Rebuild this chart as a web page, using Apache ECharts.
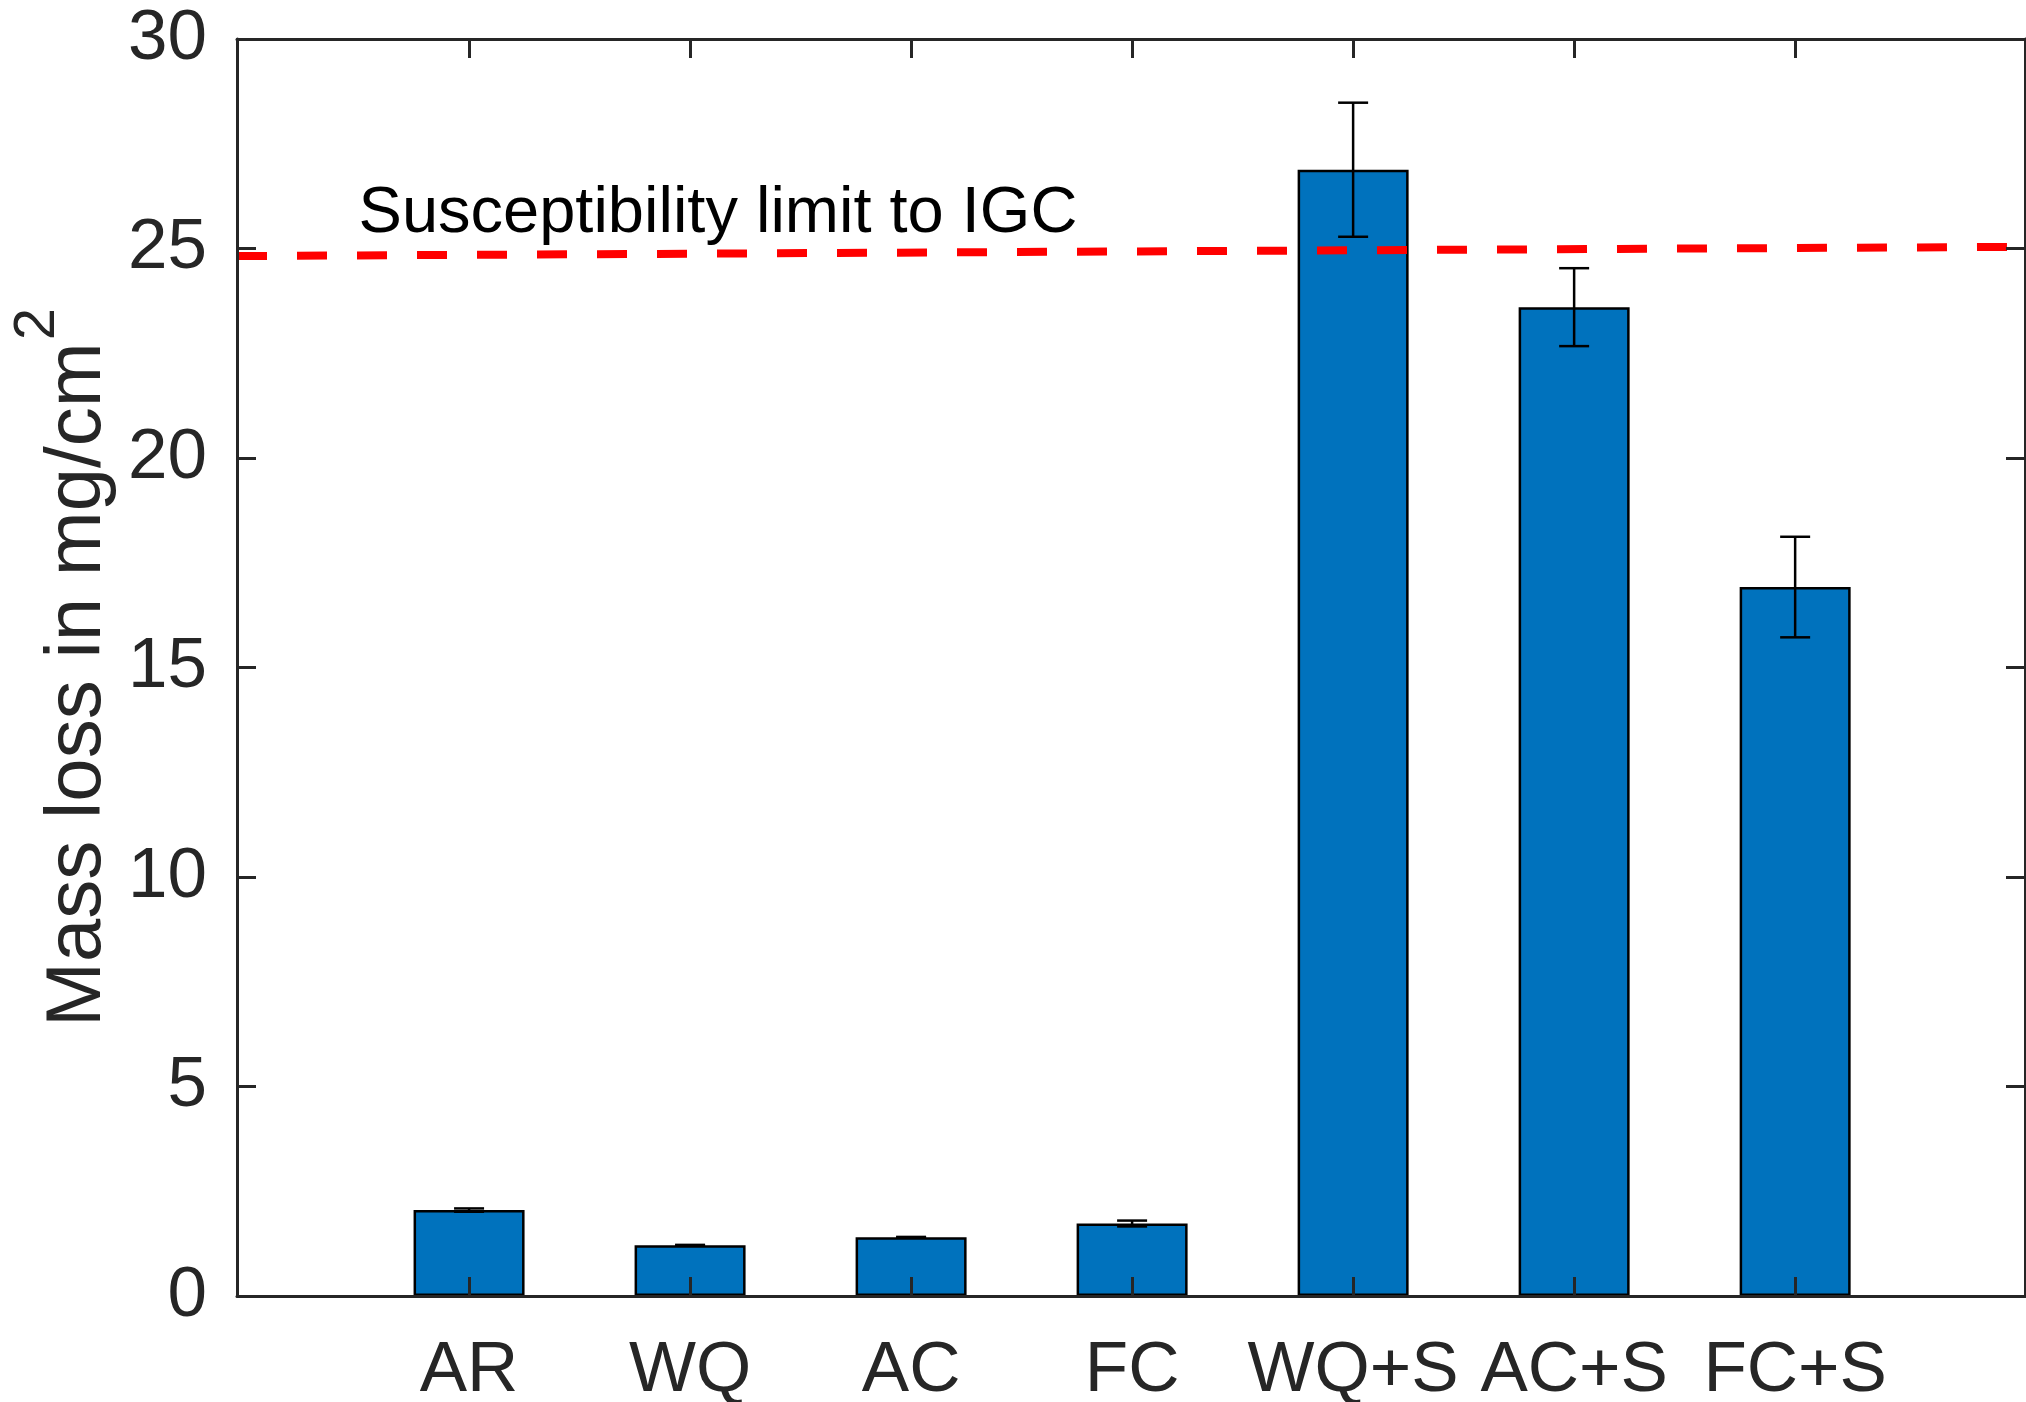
<!DOCTYPE html>
<html>
<head>
<meta charset="utf-8">
<script src="https://cdn.jsdelivr.net/npm/echarts@6/dist/echarts.min.js"></script>
<style>
  html, body { margin: 0; padding: 0; background: #fff; }
  #chart { width: 2026px; height: 1402px; }
</style>
</head>
<body>
<div id="chart"></div>
<script>
// Mass loss per heat-treatment condition (mg/cm^2), mean and error half-width
const categories = ['AR', 'WQ', 'AC', 'FC', 'WQ+S', 'AC+S', 'FC+S'];
const massLoss = [2.05, 1.21, 1.40, 1.73, 26.88, 23.60, 16.92];
const massLossErr = [0.04, 0.01, 0.01, 0.07, 1.60, 0.93, 1.20];
const yTicks = [0, 5, 10, 15, 20, 25, 30];

// Susceptibility threshold line (x in category units, y in mg/cm^2)
const limitLine = [[-0.05, 24.82], [8.04, 25.04]];
const limitLabel = 'Susceptibility limit to IGC';
const limitLabelPos = [0.5, 25.05];

const positions = categories.map((_, i) => i + 1);
const xMin = -0.05, xMax = 8.04;

const FONT = 'Liberation Sans, Arial, Helvetica, sans-serif';
const AXIS_COLOR = '#262626';

const barData = positions.map((x, i) => [x, massLoss[i]]);
const errData = positions.map((x, i) => [x, massLoss[i], massLossErr[i]]);

const chart = echarts.init(document.getElementById('chart'), null, { renderer: 'canvas' });

const frameLine = { show: true, onZero: false, lineStyle: { color: AXIS_COLOR, width: 3 } };
const innerTick = { show: true, inside: true, length: 19, lineStyle: { color: AXIS_COLOR, width: 3 } };

chart.setOption({
  animation: false,
  backgroundColor: '#fff',
  grid: { left: 237, right: 1, top: 39, bottom: 106, containLabel: false, outerBoundsMode: 'none' },
  xAxis: [
    {
      type: 'value', position: 'bottom', min: xMin, max: xMax, z: 10,
      axisLine: frameLine,
      axisTick: Object.assign({ customValues: positions }, innerTick),
      axisLabel: {
        customValues: positions,
        formatter: v => categories[Math.round(v) - 1] || '',
        fontSize: 71, fontFamily: FONT, color: AXIS_COLOR, margin: 40
      },
      splitLine: { show: false }
    },
    {
      type: 'value', position: 'top', min: xMin, max: xMax, z: 10,
      axisLine: frameLine,
      axisTick: Object.assign({ customValues: positions }, innerTick),
      axisLabel: { show: false },
      splitLine: { show: false }
    }
  ],
  yAxis: [
    {
      type: 'value', position: 'left', min: yTicks[0], max: yTicks[yTicks.length - 1], interval: 5, z: 10,
      axisLine: frameLine,
      axisTick: innerTick,
      axisLabel: { fontSize: 71, fontFamily: FONT, color: AXIS_COLOR, margin: 30, padding: [24, 0, 0, 0] },
      splitLine: { show: false },
      name: '{m|Mass loss in mg/cm}{s|2}',
      nameLocation: 'middle',
      nameRotate: 90,
      nameGap: 118,
      nameTextStyle: {
        rich: {
          m: { fontSize: 78, fontFamily: FONT, color: AXIS_COLOR, lineHeight: 90, verticalAlign: 'bottom' },
          s: { fontSize: 58, fontFamily: FONT, color: AXIS_COLOR, lineHeight: 58, verticalAlign: 'bottom', padding: [0, 0, 50, 2] }
        }
      }
    },
    {
      type: 'value', position: 'right', min: yTicks[0], max: yTicks[yTicks.length - 1], interval: 5, z: 10,
      axisLine: frameLine,
      axisTick: innerTick,
      axisLabel: { show: false },
      splitLine: { show: false }
    }
  ],
  series: [
    {
      type: 'bar',
      data: barData,
      barWidth: 111,
      itemStyle: { color: '#0072BD', borderColor: '#000', borderWidth: 2.5 },
      z: 2
    },
    {
      type: 'line',
      data: limitLine,
      symbol: 'none',
      lineStyle: { color: '#FF0000', width: 8, type: [30, 30], cap: 'butt' },
      clip: true,
      z: 3
    },
    {
      type: 'custom',
      data: errData,
      z: 4,
      clip: false,
      renderItem: (params, api) => {
        const x = api.value(0), m = api.value(1), e = api.value(2);
        const top = api.coord([x, m + e]);
        const bot = api.coord([x, m - e]);
        const half = 15;
        const st = { stroke: '#000', lineWidth: 2.5 };
        return {
          type: 'group',
          children: [
            { type: 'line', shape: { x1: top[0], y1: top[1], x2: bot[0], y2: bot[1] }, style: st },
            { type: 'line', shape: { x1: top[0] - half, y1: top[1], x2: top[0] + half, y2: top[1] }, style: st },
            { type: 'line', shape: { x1: bot[0] - half, y1: bot[1], x2: bot[0] + half, y2: bot[1] }, style: st }
          ]
        };
      }
    },
    {
      type: 'custom',
      data: [limitLabelPos],
      z: 5,
      clip: false,
      renderItem: (params, api) => {
        const p = api.coord([api.value(0), api.value(1)]);
        return {
          type: 'text',
          x: p[0], y: p[1],
          style: {
            text: limitLabel, fill: '#000', fontSize: 65, fontFamily: FONT,
            align: 'left', verticalAlign: 'bottom'
          }
        };
      }
    }
  ]
});
</script>
</body>
</html>
